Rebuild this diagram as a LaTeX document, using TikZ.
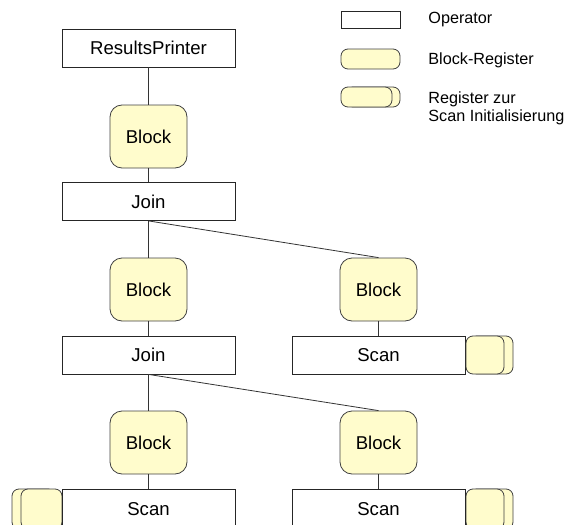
\documentclass[tikz,border=0pt]{standalone}
\usepackage{fontspec}
\setmainfont{Liberation Sans}
\begin{document}
\begin{tikzpicture}[x=1pt,y=-1pt,
  line width=0.8pt,
  opbox/.style={draw=black!85, fill=white, minimum width=173pt, minimum height=38pt, inner sep=0pt, font=\fontsize{18.6}{20}\selectfont},
  blockreg/.style={draw=black!75, fill=yellow!20, rounded corners=12pt, minimum width=77pt, minimum height=63pt, inner sep=0pt, font=\fontsize{18.6}{20}\selectfont},
  regbox/.style={draw=black!75, fill=yellow!20, rounded corners=7pt, inner sep=0pt},
  conn/.style={draw=black!80, line width=0.8pt},
  legtext/.style={anchor=west, align=left, inner sep=0pt, font=\fontsize{16.2}{18}\selectfont}
]
\useasboundingbox (0,0) rectangle (571,525);
\clip (0,0) rectangle (571,525);

% operator tree
\node[opbox] (rp) at (148.5,48) {ResultsPrinter};
\node[blockreg] (b1) at (148.5,136.5) {Block};
\node[opbox] (j1) at (148.5,201.5) {Join};
\node[blockreg] (b2) at (148.5,289.5) {Block};
\node[blockreg] (b3) at (378.5,289.5) {Block};
\node[opbox] (j2) at (148.5,355) {Join};
\node[opbox] (s1) at (378.5,355) {Scan};
\node[blockreg] (b4) at (148.5,442.5) {Block};
\node[blockreg] (b5) at (378.5,442.5) {Block};

% scan initialisation registers
\draw[regbox] (470,336) rectangle (513,374);
\draw[regbox] (466,336) rectangle (504,374);
\draw[regbox] (12,489) rectangle (55,529);
\draw[regbox] (21,489) rectangle (62,529);
\draw[regbox] (470,489) rectangle (513,529);
\draw[regbox] (466,489) rectangle (504,529);

\node[opbox, minimum height=40pt] (s2) at (148.5,509) {Scan};
\node[opbox, minimum height=40pt] (s3) at (378.5,509) {Scan};

% connectors
\draw[conn] (rp) -- (b1);
\draw[conn] (b1) -- (j1);
\draw[conn] (j1) -- (b2);
\draw[conn] (j1.south) -- (b3.north);
\draw[conn] (b2) -- (j2);
\draw[conn] (b3) -- (s1);
\draw[conn] (j2) -- (b4);
\draw[conn] (j2.south) -- (b5.north);
\draw[conn] (b4) -- (s2);
\draw[conn] (b5) -- (s3);

% legend
\node[draw=black!85, fill=white, minimum width=59pt, minimum height=17pt, inner sep=0pt] (lop) at (370.5,19.5) {};
\node[regbox, minimum width=59pt, minimum height=20pt] (lblk) at (370.5,59) {};
\draw[regbox] (346,87) rectangle (400,107);
\draw[regbox] (341,87) rectangle (392,107);
\coordinate (lreg) at (370.5,97);
\node[legtext] (t1) at (428,20) {Operator};
\node[legtext] (t2) at (428,60) {Block-Register};
\node[legtext] (t3) at (428,108) {Register zur\\Scan Initialisierung};
\end{tikzpicture}
\end{document}
